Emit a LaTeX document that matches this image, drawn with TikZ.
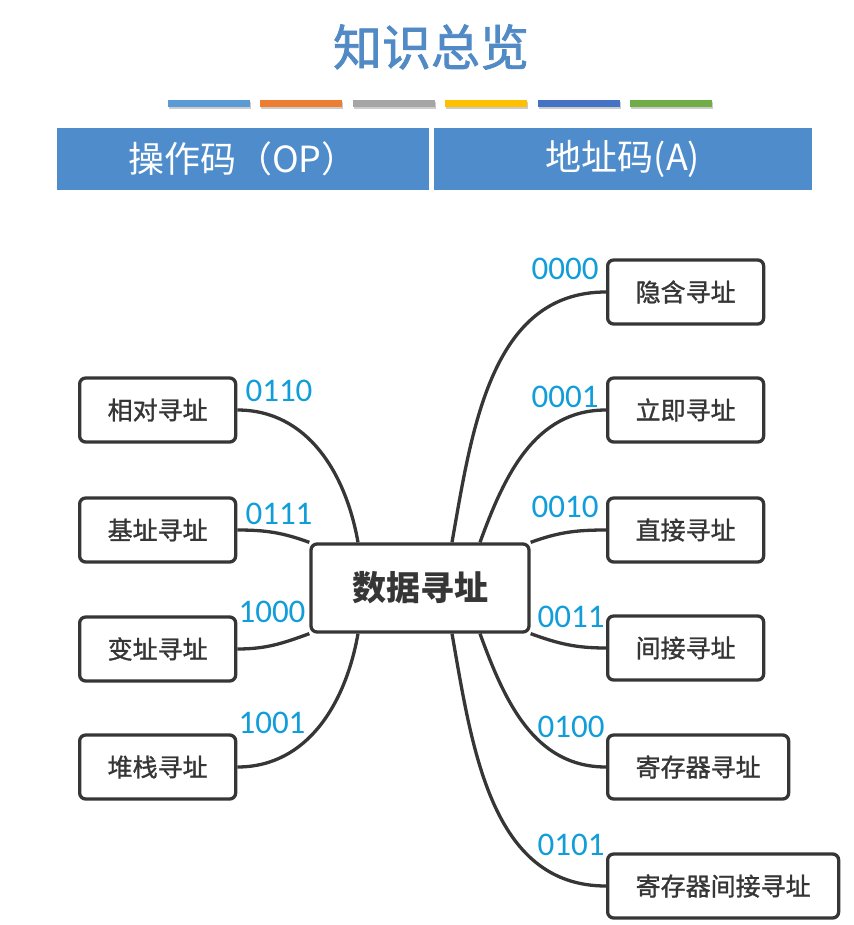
\documentclass[tikz,border=0pt]{standalone}
\usepackage{fontspec}
\usepackage{xcolor}
\usepackage{tikz}
\usetikzlibrary{calc,positioning}
\newfontfamily\cjk{Noto Sans CJK SC}
\newfontfamily\cjkmed{Noto Sans CJK SC}[FakeBold=1.2]
\newfontfamily\cjktitle{Noto Sans CJK SC}[FakeBold=1.6]
\newfontfamily\numfont{Carlito}
\definecolor{titleblue}{HTML}{528AC6}
\definecolor{barblue}{HTML}{4E8CCB}
\definecolor{codecyan}{HTML}{119DD9}
\definecolor{boxline}{HTML}{363636}
\definecolor{barA}{HTML}{5B9BD5}
\definecolor{barB}{HTML}{ED7D31}
\definecolor{barC}{HTML}{A5A5A5}
\definecolor{barD}{HTML}{FFC000}
\definecolor{barE}{HTML}{4472C4}
\definecolor{barF}{HTML}{70AD47}

\begin{document}
\begin{tikzpicture}[x=1pt,y=-1pt,
  mode/.style={draw=boxline, line width=3.3pt, rounded corners=6pt, fill=white,
    minimum height=64, inner xsep=28, text=boxline,
    font=\cjkmed\fontsize{25}{25}\selectfont},
  hdr/.style={fill=barblue, text=white, minimum height=62, inner sep=0pt,
    font=\cjk\fontsize{36}{36}\selectfont},
  code/.style={text=codecyan, inner sep=0pt, font=\numfont\fontsize{33}{33}\selectfont},
  link/.style={draw=boxline, line width=3.3pt}]
\useasboundingbox (0,0) rectangle (853,925);

\node (title) at (431,47) [text=titleblue, font=\cjktitle\fontsize{49}{49}\selectfont] {知识总览};

% colour strip
\foreach \c [count=\i] in {barA,barB,barC,barD,barE,barF} {
  \fill [black!20] (75.5+92.4*\i+1, 102) rectangle ++(82, 7);
  \fill [\c] (75.5+92.4*\i, 100) rectangle ++(82, 7);
}

\node (op) at (243,159) [hdr, minimum width=372] {操作码（OP）};
\node (addr) at (623,159) [hdr, minimum width=378] {地址码(A)};

\node (data) at (420,588) [mode, minimum width=218, minimum height=88, inner xsep=0,
  font=\cjk\bfseries\fontsize{34}{34}\selectfont] {数据寻址};

% left side
\node (xiangdui) at (78,410) [mode, anchor=west] {相对寻址};
\node (jizhi) at (78,530) [mode, anchor=west] {基址寻址};
\node (bianzhi) at (78,649) [mode, anchor=west] {变址寻址};
\node (duizhan) at (78,767) [mode, anchor=west] {堆栈寻址};

% right side
\node (yinhan) at (606,292) [mode, anchor=west] {隐含寻址};
\node (liji) at (606,410) [mode, anchor=west] {立即寻址};
\node (zhijie) at (606,530) [mode, anchor=west] {直接寻址};
\node (jianjie) at (606,648) [mode, anchor=west] {间接寻址};
\node (jicunqi) at (606,767) [mode, anchor=west] {寄存器寻址};
\node (jcqjianjie) at (606,886) [mode, anchor=west] {寄存器间接寻址};

\draw [link] (xiangdui.east) to[out=0,in=100] ($(data.north)+(-62,0)$);
\draw [link] (jizhi.east) to[out=0,in=160] (data.north west);
\draw [link] (bianzhi.east) to[out=0,in=200] (data.south west);
\draw [link] (duizhan.east) to[out=0,in=260] ($(data.south)+(-62,0)$);

\draw [link] (yinhan.west) to[out=180,in=80] ($(data.north)+(32,0)$);
\draw [link] (liji.west) to[out=180,in=70] ($(data.north)+(60,0)$);
\draw [link] (zhijie.west) to[out=180,in=20] (data.north east);
\draw [link] (jianjie.west) to[out=180,in=-20] (data.south east);
\draw [link] (jicunqi.west) to[out=180,in=-70] ($(data.south)+(60,0)$);
\draw [link] (jcqjianjie.west) to[out=180,in=-80] ($(data.south)+(32,0)$);

\node (c0110) at (279,391) [code] {0110};
\node (c0111) at (279,514) [code] {0111};
\node (c1000) at (272,612) [code] {1000};
\node (c1001) at (272,723) [code] {1001};
\node (c0000) at (565,269) [code] {0000};
\node (c0001) at (565,397) [code] {0001};
\node (c0010) at (565,507) [code] {0010};
\node (c0011) at (571,617) [code] {0011};
\node (c0100) at (571,727) [code] {0100};
\node (c0101) at (571,845) [code] {0101};
\end{tikzpicture}
\end{document}
